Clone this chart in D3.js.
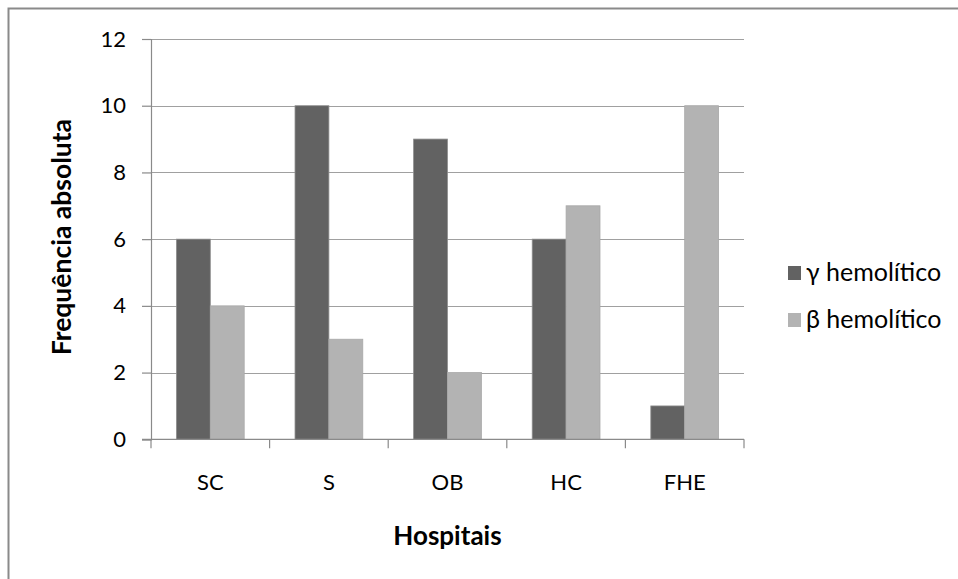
<!DOCTYPE html>
<html>
<head>
<meta charset="utf-8">
<script src="https://cdn.jsdelivr.net/npm/d3@7"></script>
<style>
  html, body { margin: 0; padding: 0; background: #fff; }
  svg { display: block; }
  text { font-family: Lato, "Open Sans", sans-serif; fill: #000; }
</style>
</head>
<body>
<svg id="chart" width="958" height="579"></svg>
<script>
// Hospital categories and counts per hemolysis type
const categories = ["SC", "S", "OB", "HC", "FHE"];
const seriesNames = ["γ hemolítico", "β hemolítico"];
const gammaValues = [6, 10, 9, 6, 1];
const betaValues = [4, 3, 2, 7, 10];
const yTicks = [0, 2, 4, 6, 8, 10, 12];
const seriesColors = ["#626262", "#b3b3b3"];

const svg = d3.select("#chart");

// Outer frame of the chart area
svg.append("rect")
  .attr("x", 8.5).attr("y", 8.5)
  .attr("width", 1000).attr("height", 1000)
  .attr("fill", "none").attr("stroke", "#8a8a8a").attr("stroke-width", 2);

const plot = { left: 151, right: 744, top: 39, bottom: 439.3 };

const y = d3.scaleLinear().domain([0, 12]).range([plot.bottom, plot.top]);
const xCat = d3.scaleBand().domain(categories).range([plot.left, plot.right]).padding(0);
const step = xCat.step();
// two bars per category with a 150% gap between groups
const x1 = d3.scaleBand().domain(seriesNames)
  .range([0.75 / 3.5 * step, 2.75 / 3.5 * step]).padding(0);

// Horizontal gridlines
svg.append("g")
  .selectAll("line")
  .data(yTicks.filter(d => d > 0))
  .join("line")
  .attr("x1", plot.left).attr("x2", plot.right)
  .attr("y1", d => Math.round(y(d)) + 0.5).attr("y2", d => Math.round(y(d)) + 0.5)
  .attr("stroke", "#a0a0a0").attr("stroke-width", 1.2);

// Bars
const rows = categories.map((c, i) => ({ cat: c, values: [gammaValues[i], betaValues[i]] }));
const groups = svg.append("g").selectAll("g")
  .data(rows).join("g")
  .attr("transform", d => `translate(${xCat(d.cat)},0)`);
groups.selectAll("rect")
  .data(d => d.values.map((v, j) => ({ name: seriesNames[j], value: v, j })))
  .join("rect")
  .attr("x", d => x1(d.name))
  .attr("width", x1.bandwidth())
  .attr("y", d => y(d.value))
  .attr("height", d => y(0) - y(d.value))
  .attr("fill", d => seriesColors[d.j])
  .attr("stroke", d => d.j === 0 ? "#8e8e8e" : "#a8a8a8")
  .attr("stroke-width", 0.8);

// Y axis
const yAxis = svg.append("g")
  .attr("transform", `translate(${plot.left},0)`)
  .call(d3.axisLeft(y).tickValues(yTicks).tickSize(9).tickPadding(16));
yAxis.select(".domain").attr("stroke", "#8a8a8a").attr("stroke-width", 1.2);
yAxis.selectAll(".tick line").attr("stroke", "#8a8a8a").attr("stroke-width", 1.2);
yAxis.selectAll(".tick text")
  .style("font-family", "Lato, 'Open Sans', sans-serif")
  .attr("font-size", 22).attr("fill", "#000");

// X axis: ticks on category boundaries, labels centred in each band
const xAxisG = svg.append("g").attr("transform", `translate(0,${plot.bottom})`);
xAxisG.append("line")
  .attr("x1", plot.left - 9).attr("x2", plot.right)
  .attr("y1", 0).attr("y2", 0)
  .attr("stroke", "#8a8a8a").attr("stroke-width", 1.2);
const boundaries = categories.map(c => xCat(c)).concat([plot.right]);
xAxisG.selectAll("line.tk")
  .data(boundaries).join("line").attr("class", "tk")
  .attr("x1", d => d).attr("x2", d => d)
  .attr("y1", 0).attr("y2", 9)
  .attr("stroke", "#8a8a8a").attr("stroke-width", 1.2);
xAxisG.selectAll("text")
  .data(categories).join("text")
  .attr("x", d => xCat(d) + xCat.bandwidth() / 2)
  .attr("y", 51)
  .attr("text-anchor", "middle")
  .attr("font-size", 22)
  .text(d => d);

// Axis titles
svg.append("text")
  .attr("x", (plot.left + plot.right) / 2).attr("y", 545)
  .attr("text-anchor", "middle")
  .attr("font-size", 26).attr("font-weight", "bold")
  .text("Hospitais");

svg.append("text")
  .attr("transform", `translate(71,${(plot.top + plot.bottom) / 2 - 2}) rotate(-90)`)
  .attr("text-anchor", "middle")
  .attr("font-size", 26.5).attr("font-weight", "bold")
  .text("Frequência absoluta");

// Legend
const legend = svg.append("g").attr("transform", "translate(788,266)");
const items = legend.selectAll("g").data(seriesNames).join("g")
  .attr("transform", (d, i) => `translate(0,${i * 47})`);
items.append("rect")
  .attr("width", 13).attr("height", 14)
  .attr("fill", (d, i) => seriesColors[i]);
items.append("text")
  .attr("x", 18).attr("y", 15)
  .attr("font-size", 25)
  .text(d => d);
</script>
</body>
</html>
